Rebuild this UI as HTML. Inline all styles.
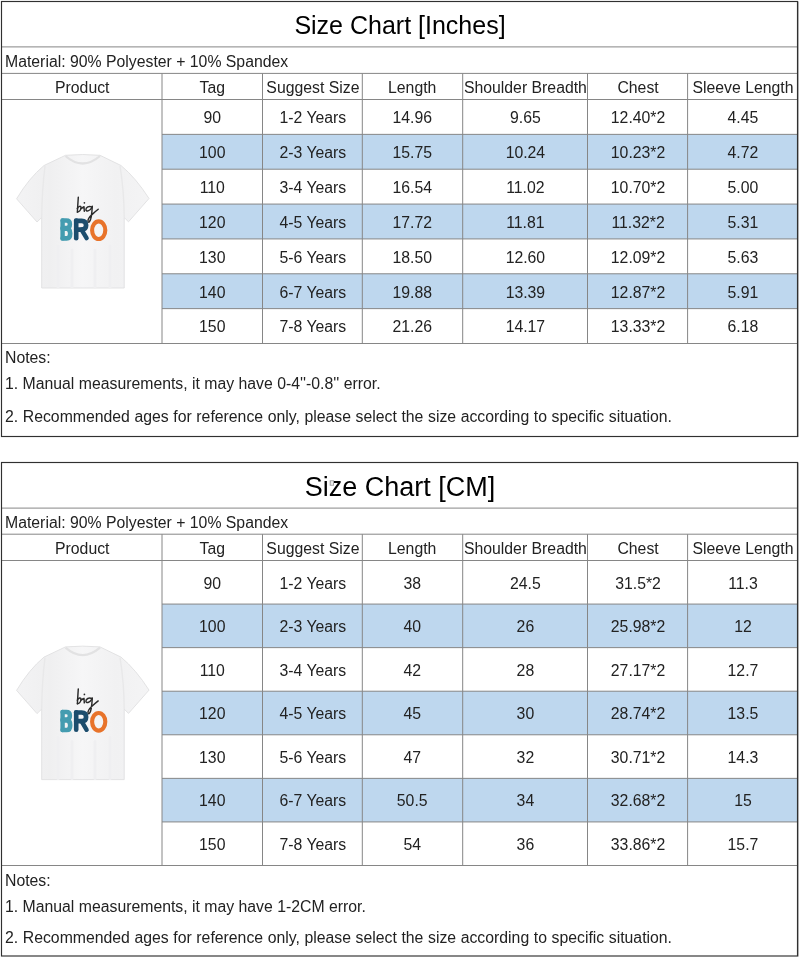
<!DOCTYPE html>
<html><head><meta charset="utf-8"><style>
html,body{margin:0;padding:0;background:#fff;}
body{width:800px;height:958px;position:relative;overflow:hidden;font-family:"Liberation Sans",sans-serif;}
.abs{position:absolute;}
.title{text-align:center;color:#000;will-change:transform;}
.txt{font-size:15.8px;color:#222;white-space:nowrap;will-change:transform;}
.c{text-align:center;}
.n{word-spacing:0.2px;}
</style></head><body>
<svg class="abs" style="left:0;top:0" width="800" height="958" viewBox="0 0 800 958">
<defs><linearGradient id="shg" x1="0" y1="0" x2="1" y2="0"><stop offset="0" stop-color="#f3f3f4"/><stop offset="0.25" stop-color="#efeff0"/><stop offset="0.5" stop-color="#f6f6f7"/><stop offset="0.75" stop-color="#f1f1f2"/><stop offset="1" stop-color="#f4f4f5"/></linearGradient></defs>
<rect x="162.0" y="134.36" width="635.5" height="34.849999999999994" fill="#bed7ee"/>
<rect x="162.0" y="204.07" width="635.5" height="34.860000000000014" fill="#bed7ee"/>
<rect x="162.0" y="273.79" width="635.5" height="34.849999999999966" fill="#bed7ee"/>
<g transform="translate(0 0)">
<path d="M65.5 155.3 Q82.5 153.8 100 155.3 L121 165.5 Q136 178 149 198.5 L128.5 221.8 L124.2 217.5 L124.2 288 L41.7 288 L41.7 217.5 L37 222 L16.6 198.8 Q29 178 44 165.5 Z" fill="url(#shg)" stroke="#e0e0e1" stroke-width="0.9"/>
<path d="M45 166 Q42 190 41.7 217.5 M120 166 Q124 190 124.2 217.5" fill="none" stroke="#e8e8e9" stroke-width="1.4"/>
<path d="M65.5 156 Q82.5 171 100 156" fill="none" stroke="#e2e2e3" stroke-width="2.2"/>
<path d="M58 246 V287 M72 250 V287 M95 250 V287 M110 246 V287" stroke="#efeff1" stroke-width="3" stroke-linecap="round"/>
<g fill="none" stroke="#2b2b2b" stroke-width="1.45" stroke-linecap="round" stroke-linejoin="round">
<path d="M78.3 197.3 C78 202 77.6 207 77.4 212.1"/>
<path d="M77.3 208.6 C78.5 206 81.2 205.4 81 207.9 C80.8 210.2 79 212 77.4 212.1"/>
<path d="M80.9 208.6 C82 208 83.2 207.2 84 206.7 L84.3 211.3"/>
<path d="M91.7 206.9 C89 205.6 85.8 207.3 85.9 209.7 C86 211.7 89.6 211.5 91.9 207.6"/>
<path d="M92.3 206.3 C92.1 210 91.8 214 91.2 217 C90.5 221 88.6 223.6 88 221.4 C87.6 219 90 216.4 92.2 214.4 C94.2 212.6 96 211 98.2 209.3"/>
</g>
<circle cx="84.4" cy="202.8" r="0.85" fill="#2b2b2b"/>
<g fill="none" stroke-linecap="round" stroke-linejoin="round">
<g stroke="#449cb0">
<path d="M62.6 220.4 V238.4" stroke-width="4.4"/>
<path d="M62.6 220.5 H66.3 Q69.9 220.5 69.9 224.2 Q69.9 228 66.3 228 H62.6" stroke-width="4.5"/>
<path d="M62.6 228.8 H66.7 Q70.2 228.8 70.2 233.6 Q70.2 238.4 66.7 238.4 H62.6" stroke-width="4.6"/>
</g>
<g stroke="#1c4d6d">
<path d="M76.2 220.6 V238.2" stroke-width="4.6"/>
<path d="M76.2 220.9 H81.6 Q86.1 220.9 86.1 225.3 Q86.1 229.6 81.6 229.6 H76.2" stroke-width="4.7"/>
<path d="M81.5 229.6 L86.6 238.2" stroke-width="4.4"/>
</g>
<ellipse cx="98.7" cy="230.2" rx="6.6" ry="8.8" stroke="#e8732a" stroke-width="4.1"/>
</g>
</g>
<path d="M1.5 46.9H797.5 M1.5 73.4H797.5 M1.5 99.5H797.5 M162.0 134.36H797.5 M162.0 169.21H797.5 M162.0 204.07H797.5 M162.0 238.93H797.5 M162.0 273.79H797.5 M162.0 308.64H797.5 M1.5 343.5H797.5 M162.0 73.4V343.5 M262.5 73.4V343.5 M362.3 73.4V343.5 M462.7 73.4V343.5 M587.5 73.4V343.5 M687.6 73.4V343.5" stroke="#868686" stroke-width="1" fill="none"/>
<rect x="1.5" y="1.5" width="796.0" height="435.0" fill="none" stroke="#303030" stroke-width="1.15"/>
<path d="M798.5 1.5V437.0" stroke="#b0b0b0" stroke-width="1" fill="none"/>
<rect x="162.0" y="604.07" width="635.5" height="43.569999999999936" fill="#bed7ee"/>
<rect x="162.0" y="691.21" width="635.5" height="43.57999999999993" fill="#bed7ee"/>
<rect x="162.0" y="778.36" width="635.5" height="43.569999999999936" fill="#bed7ee"/>
<g transform="translate(0 491.6)">
<path d="M65.5 155.3 Q82.5 153.8 100 155.3 L121 165.5 Q136 178 149 198.5 L128.5 221.8 L124.2 217.5 L124.2 288 L41.7 288 L41.7 217.5 L37 222 L16.6 198.8 Q29 178 44 165.5 Z" fill="url(#shg)" stroke="#e0e0e1" stroke-width="0.9"/>
<path d="M45 166 Q42 190 41.7 217.5 M120 166 Q124 190 124.2 217.5" fill="none" stroke="#e8e8e9" stroke-width="1.4"/>
<path d="M65.5 156 Q82.5 171 100 156" fill="none" stroke="#e2e2e3" stroke-width="2.2"/>
<path d="M58 246 V287 M72 250 V287 M95 250 V287 M110 246 V287" stroke="#efeff1" stroke-width="3" stroke-linecap="round"/>
<g fill="none" stroke="#2b2b2b" stroke-width="1.45" stroke-linecap="round" stroke-linejoin="round">
<path d="M78.3 197.3 C78 202 77.6 207 77.4 212.1"/>
<path d="M77.3 208.6 C78.5 206 81.2 205.4 81 207.9 C80.8 210.2 79 212 77.4 212.1"/>
<path d="M80.9 208.6 C82 208 83.2 207.2 84 206.7 L84.3 211.3"/>
<path d="M91.7 206.9 C89 205.6 85.8 207.3 85.9 209.7 C86 211.7 89.6 211.5 91.9 207.6"/>
<path d="M92.3 206.3 C92.1 210 91.8 214 91.2 217 C90.5 221 88.6 223.6 88 221.4 C87.6 219 90 216.4 92.2 214.4 C94.2 212.6 96 211 98.2 209.3"/>
</g>
<circle cx="84.4" cy="202.8" r="0.85" fill="#2b2b2b"/>
<g fill="none" stroke-linecap="round" stroke-linejoin="round">
<g stroke="#449cb0">
<path d="M62.6 220.4 V238.4" stroke-width="4.4"/>
<path d="M62.6 220.5 H66.3 Q69.9 220.5 69.9 224.2 Q69.9 228 66.3 228 H62.6" stroke-width="4.5"/>
<path d="M62.6 228.8 H66.7 Q70.2 228.8 70.2 233.6 Q70.2 238.4 66.7 238.4 H62.6" stroke-width="4.6"/>
</g>
<g stroke="#1c4d6d">
<path d="M76.2 220.6 V238.2" stroke-width="4.6"/>
<path d="M76.2 220.9 H81.6 Q86.1 220.9 86.1 225.3 Q86.1 229.6 81.6 229.6 H76.2" stroke-width="4.7"/>
<path d="M81.5 229.6 L86.6 238.2" stroke-width="4.4"/>
</g>
<ellipse cx="98.7" cy="230.2" rx="6.6" ry="8.8" stroke="#e8732a" stroke-width="4.1"/>
</g>
</g>
<path d="M1.5 508.1H797.5 M1.5 534.2H797.5 M1.5 560.5H797.5 M162.0 604.07H797.5 M162.0 647.64H797.5 M162.0 691.21H797.5 M162.0 734.79H797.5 M162.0 778.36H797.5 M162.0 821.93H797.5 M1.5 865.5H797.5 M162.0 534.2V865.5 M262.5 534.2V865.5 M362.3 534.2V865.5 M462.7 534.2V865.5 M587.5 534.2V865.5 M687.6 534.2V865.5" stroke="#868686" stroke-width="1" fill="none"/>
<rect x="1.5" y="462.5" width="796.0" height="493.5" fill="none" stroke="#303030" stroke-width="1.15"/>
<path d="M798.5 462.5V956.5" stroke="#b0b0b0" stroke-width="1" fill="none"/>
</svg>
<div class="abs title" style="font-size:25px;left:1.5px;top:2.7px;width:796.0px;height:45.9px;line-height:45.9px">Size Chart [Inches]</div>
<div class="abs txt" style="left:4.5px;top:48.699999999999996px;height:26.500000000000007px;line-height:26.500000000000007px">Material: 90% Polyester + 10% Spandex</div>
<div class="abs txt c" style="left:1.5px;top:75.2px;width:160.5px;height:26.099999999999994px;line-height:26.099999999999994px">Product</div>
<div class="abs txt c" style="left:162.0px;top:75.2px;width:100.5px;height:26.099999999999994px;line-height:26.099999999999994px">Tag</div>
<div class="abs txt c" style="left:262.5px;top:75.2px;width:99.80000000000001px;height:26.099999999999994px;line-height:26.099999999999994px">Suggest Size</div>
<div class="abs txt c" style="left:362.3px;top:75.2px;width:100.39999999999998px;height:26.099999999999994px;line-height:26.099999999999994px">Length</div>
<div class="abs txt c" style="left:462.7px;top:75.2px;width:124.80000000000001px;height:26.099999999999994px;line-height:26.099999999999994px">Shoulder Breadth</div>
<div class="abs txt c" style="left:587.5px;top:75.2px;width:100.10000000000002px;height:26.099999999999994px;line-height:26.099999999999994px">Chest</div>
<div class="abs txt c" style="left:687.6px;top:75.2px;width:109.89999999999998px;height:26.099999999999994px;line-height:26.099999999999994px">Sleeve Length</div>
<div class="abs txt c" style="left:162.0px;top:101.3px;width:100.5px;height:34.860000000000014px;line-height:34.860000000000014px">90</div>
<div class="abs txt c" style="left:262.5px;top:101.3px;width:99.80000000000001px;height:34.860000000000014px;line-height:34.860000000000014px">1-2 Years</div>
<div class="abs txt c" style="left:362.3px;top:101.3px;width:100.39999999999998px;height:34.860000000000014px;line-height:34.860000000000014px">14.96</div>
<div class="abs txt c" style="left:462.7px;top:101.3px;width:124.80000000000001px;height:34.860000000000014px;line-height:34.860000000000014px">9.65</div>
<div class="abs txt c" style="left:587.5px;top:101.3px;width:100.10000000000002px;height:34.860000000000014px;line-height:34.860000000000014px">12.40*2</div>
<div class="abs txt c" style="left:687.6px;top:101.3px;width:109.89999999999998px;height:34.860000000000014px;line-height:34.860000000000014px">4.45</div>
<div class="abs txt c" style="left:162.0px;top:136.16000000000003px;width:100.5px;height:34.849999999999994px;line-height:34.849999999999994px">100</div>
<div class="abs txt c" style="left:262.5px;top:136.16000000000003px;width:99.80000000000001px;height:34.849999999999994px;line-height:34.849999999999994px">2-3 Years</div>
<div class="abs txt c" style="left:362.3px;top:136.16000000000003px;width:100.39999999999998px;height:34.849999999999994px;line-height:34.849999999999994px">15.75</div>
<div class="abs txt c" style="left:462.7px;top:136.16000000000003px;width:124.80000000000001px;height:34.849999999999994px;line-height:34.849999999999994px">10.24</div>
<div class="abs txt c" style="left:587.5px;top:136.16000000000003px;width:100.10000000000002px;height:34.849999999999994px;line-height:34.849999999999994px">10.23*2</div>
<div class="abs txt c" style="left:687.6px;top:136.16000000000003px;width:109.89999999999998px;height:34.849999999999994px;line-height:34.849999999999994px">4.72</div>
<div class="abs txt c" style="left:162.0px;top:171.01000000000002px;width:100.5px;height:34.859999999999985px;line-height:34.859999999999985px">110</div>
<div class="abs txt c" style="left:262.5px;top:171.01000000000002px;width:99.80000000000001px;height:34.859999999999985px;line-height:34.859999999999985px">3-4 Years</div>
<div class="abs txt c" style="left:362.3px;top:171.01000000000002px;width:100.39999999999998px;height:34.859999999999985px;line-height:34.859999999999985px">16.54</div>
<div class="abs txt c" style="left:462.7px;top:171.01000000000002px;width:124.80000000000001px;height:34.859999999999985px;line-height:34.859999999999985px">11.02</div>
<div class="abs txt c" style="left:587.5px;top:171.01000000000002px;width:100.10000000000002px;height:34.859999999999985px;line-height:34.859999999999985px">10.70*2</div>
<div class="abs txt c" style="left:687.6px;top:171.01000000000002px;width:109.89999999999998px;height:34.859999999999985px;line-height:34.859999999999985px">5.00</div>
<div class="abs txt c" style="left:162.0px;top:205.87px;width:100.5px;height:34.860000000000014px;line-height:34.860000000000014px">120</div>
<div class="abs txt c" style="left:262.5px;top:205.87px;width:99.80000000000001px;height:34.860000000000014px;line-height:34.860000000000014px">4-5 Years</div>
<div class="abs txt c" style="left:362.3px;top:205.87px;width:100.39999999999998px;height:34.860000000000014px;line-height:34.860000000000014px">17.72</div>
<div class="abs txt c" style="left:462.7px;top:205.87px;width:124.80000000000001px;height:34.860000000000014px;line-height:34.860000000000014px">11.81</div>
<div class="abs txt c" style="left:587.5px;top:205.87px;width:100.10000000000002px;height:34.860000000000014px;line-height:34.860000000000014px">11.32*2</div>
<div class="abs txt c" style="left:687.6px;top:205.87px;width:109.89999999999998px;height:34.860000000000014px;line-height:34.860000000000014px">5.31</div>
<div class="abs txt c" style="left:162.0px;top:240.73000000000002px;width:100.5px;height:34.860000000000014px;line-height:34.860000000000014px">130</div>
<div class="abs txt c" style="left:262.5px;top:240.73000000000002px;width:99.80000000000001px;height:34.860000000000014px;line-height:34.860000000000014px">5-6 Years</div>
<div class="abs txt c" style="left:362.3px;top:240.73000000000002px;width:100.39999999999998px;height:34.860000000000014px;line-height:34.860000000000014px">18.50</div>
<div class="abs txt c" style="left:462.7px;top:240.73000000000002px;width:124.80000000000001px;height:34.860000000000014px;line-height:34.860000000000014px">12.60</div>
<div class="abs txt c" style="left:587.5px;top:240.73000000000002px;width:100.10000000000002px;height:34.860000000000014px;line-height:34.860000000000014px">12.09*2</div>
<div class="abs txt c" style="left:687.6px;top:240.73000000000002px;width:109.89999999999998px;height:34.860000000000014px;line-height:34.860000000000014px">5.63</div>
<div class="abs txt c" style="left:162.0px;top:275.59000000000003px;width:100.5px;height:34.849999999999966px;line-height:34.849999999999966px">140</div>
<div class="abs txt c" style="left:262.5px;top:275.59000000000003px;width:99.80000000000001px;height:34.849999999999966px;line-height:34.849999999999966px">6-7 Years</div>
<div class="abs txt c" style="left:362.3px;top:275.59000000000003px;width:100.39999999999998px;height:34.849999999999966px;line-height:34.849999999999966px">19.88</div>
<div class="abs txt c" style="left:462.7px;top:275.59000000000003px;width:124.80000000000001px;height:34.849999999999966px;line-height:34.849999999999966px">13.39</div>
<div class="abs txt c" style="left:587.5px;top:275.59000000000003px;width:100.10000000000002px;height:34.849999999999966px;line-height:34.849999999999966px">12.87*2</div>
<div class="abs txt c" style="left:687.6px;top:275.59000000000003px;width:109.89999999999998px;height:34.849999999999966px;line-height:34.849999999999966px">5.91</div>
<div class="abs txt c" style="left:162.0px;top:310.44px;width:100.5px;height:34.860000000000014px;line-height:34.860000000000014px">150</div>
<div class="abs txt c" style="left:262.5px;top:310.44px;width:99.80000000000001px;height:34.860000000000014px;line-height:34.860000000000014px">7-8 Years</div>
<div class="abs txt c" style="left:362.3px;top:310.44px;width:100.39999999999998px;height:34.860000000000014px;line-height:34.860000000000014px">21.26</div>
<div class="abs txt c" style="left:462.7px;top:310.44px;width:124.80000000000001px;height:34.860000000000014px;line-height:34.860000000000014px">14.17</div>
<div class="abs txt c" style="left:587.5px;top:310.44px;width:100.10000000000002px;height:34.860000000000014px;line-height:34.860000000000014px">13.33*2</div>
<div class="abs txt c" style="left:687.6px;top:310.44px;width:109.89999999999998px;height:34.860000000000014px;line-height:34.860000000000014px">6.18</div>
<div class="abs txt" style="left:4.5px;top:349.2px">Notes:</div>
<div class="abs txt" style="left:4.5px;top:375.2px">1. Manual measurements, it may have 0-4''-0.8'' error.</div>
<div class="abs txt" style="left:4.5px;top:408.2px"><span class=n>2. Recommended ages for reference only, please select the size according to specific situation.</span></div>
<div class="abs title" style="font-size:27px;left:1.5px;top:464.7px;width:796.0px;height:45.60000000000002px;line-height:45.60000000000002px">Size Chart [CM]</div>
<div class="abs txt" style="left:4.5px;top:510.20000000000005px;height:26.100000000000023px;line-height:26.100000000000023px">Material: 90% Polyester + 10% Spandex</div>
<div class="abs txt c" style="left:1.5px;top:536.3000000000001px;width:160.5px;height:26.299999999999955px;line-height:26.299999999999955px">Product</div>
<div class="abs txt c" style="left:162.0px;top:536.3000000000001px;width:100.5px;height:26.299999999999955px;line-height:26.299999999999955px">Tag</div>
<div class="abs txt c" style="left:262.5px;top:536.3000000000001px;width:99.80000000000001px;height:26.299999999999955px;line-height:26.299999999999955px">Suggest Size</div>
<div class="abs txt c" style="left:362.3px;top:536.3000000000001px;width:100.39999999999998px;height:26.299999999999955px;line-height:26.299999999999955px">Length</div>
<div class="abs txt c" style="left:462.7px;top:536.3000000000001px;width:124.80000000000001px;height:26.299999999999955px;line-height:26.299999999999955px">Shoulder Breadth</div>
<div class="abs txt c" style="left:587.5px;top:536.3000000000001px;width:100.10000000000002px;height:26.299999999999955px;line-height:26.299999999999955px">Chest</div>
<div class="abs txt c" style="left:687.6px;top:536.3000000000001px;width:109.89999999999998px;height:26.299999999999955px;line-height:26.299999999999955px">Sleeve Length</div>
<div class="abs txt c" style="left:162.0px;top:561.6px;width:100.5px;height:43.57000000000005px;line-height:43.57000000000005px">90</div>
<div class="abs txt c" style="left:262.5px;top:561.6px;width:99.80000000000001px;height:43.57000000000005px;line-height:43.57000000000005px">1-2 Years</div>
<div class="abs txt c" style="left:362.3px;top:561.6px;width:100.39999999999998px;height:43.57000000000005px;line-height:43.57000000000005px">38</div>
<div class="abs txt c" style="left:462.7px;top:561.6px;width:124.80000000000001px;height:43.57000000000005px;line-height:43.57000000000005px">24.5</div>
<div class="abs txt c" style="left:587.5px;top:561.6px;width:100.10000000000002px;height:43.57000000000005px;line-height:43.57000000000005px">31.5*2</div>
<div class="abs txt c" style="left:687.6px;top:561.6px;width:109.89999999999998px;height:43.57000000000005px;line-height:43.57000000000005px">11.3</div>
<div class="abs txt c" style="left:162.0px;top:605.1700000000001px;width:100.5px;height:43.569999999999936px;line-height:43.569999999999936px">100</div>
<div class="abs txt c" style="left:262.5px;top:605.1700000000001px;width:99.80000000000001px;height:43.569999999999936px;line-height:43.569999999999936px">2-3 Years</div>
<div class="abs txt c" style="left:362.3px;top:605.1700000000001px;width:100.39999999999998px;height:43.569999999999936px;line-height:43.569999999999936px">40</div>
<div class="abs txt c" style="left:462.7px;top:605.1700000000001px;width:124.80000000000001px;height:43.569999999999936px;line-height:43.569999999999936px">26</div>
<div class="abs txt c" style="left:587.5px;top:605.1700000000001px;width:100.10000000000002px;height:43.569999999999936px;line-height:43.569999999999936px">25.98*2</div>
<div class="abs txt c" style="left:687.6px;top:605.1700000000001px;width:109.89999999999998px;height:43.569999999999936px;line-height:43.569999999999936px">12</div>
<div class="abs txt c" style="left:162.0px;top:648.74px;width:100.5px;height:43.57000000000005px;line-height:43.57000000000005px">110</div>
<div class="abs txt c" style="left:262.5px;top:648.74px;width:99.80000000000001px;height:43.57000000000005px;line-height:43.57000000000005px">3-4 Years</div>
<div class="abs txt c" style="left:362.3px;top:648.74px;width:100.39999999999998px;height:43.57000000000005px;line-height:43.57000000000005px">42</div>
<div class="abs txt c" style="left:462.7px;top:648.74px;width:124.80000000000001px;height:43.57000000000005px;line-height:43.57000000000005px">28</div>
<div class="abs txt c" style="left:587.5px;top:648.74px;width:100.10000000000002px;height:43.57000000000005px;line-height:43.57000000000005px">27.17*2</div>
<div class="abs txt c" style="left:687.6px;top:648.74px;width:109.89999999999998px;height:43.57000000000005px;line-height:43.57000000000005px">12.7</div>
<div class="abs txt c" style="left:162.0px;top:692.3100000000001px;width:100.5px;height:43.57999999999993px;line-height:43.57999999999993px">120</div>
<div class="abs txt c" style="left:262.5px;top:692.3100000000001px;width:99.80000000000001px;height:43.57999999999993px;line-height:43.57999999999993px">4-5 Years</div>
<div class="abs txt c" style="left:362.3px;top:692.3100000000001px;width:100.39999999999998px;height:43.57999999999993px;line-height:43.57999999999993px">45</div>
<div class="abs txt c" style="left:462.7px;top:692.3100000000001px;width:124.80000000000001px;height:43.57999999999993px;line-height:43.57999999999993px">30</div>
<div class="abs txt c" style="left:587.5px;top:692.3100000000001px;width:100.10000000000002px;height:43.57999999999993px;line-height:43.57999999999993px">28.74*2</div>
<div class="abs txt c" style="left:687.6px;top:692.3100000000001px;width:109.89999999999998px;height:43.57999999999993px;line-height:43.57999999999993px">13.5</div>
<div class="abs txt c" style="left:162.0px;top:735.89px;width:100.5px;height:43.57000000000005px;line-height:43.57000000000005px">130</div>
<div class="abs txt c" style="left:262.5px;top:735.89px;width:99.80000000000001px;height:43.57000000000005px;line-height:43.57000000000005px">5-6 Years</div>
<div class="abs txt c" style="left:362.3px;top:735.89px;width:100.39999999999998px;height:43.57000000000005px;line-height:43.57000000000005px">47</div>
<div class="abs txt c" style="left:462.7px;top:735.89px;width:124.80000000000001px;height:43.57000000000005px;line-height:43.57000000000005px">32</div>
<div class="abs txt c" style="left:587.5px;top:735.89px;width:100.10000000000002px;height:43.57000000000005px;line-height:43.57000000000005px">30.71*2</div>
<div class="abs txt c" style="left:687.6px;top:735.89px;width:109.89999999999998px;height:43.57000000000005px;line-height:43.57000000000005px">14.3</div>
<div class="abs txt c" style="left:162.0px;top:779.46px;width:100.5px;height:43.569999999999936px;line-height:43.569999999999936px">140</div>
<div class="abs txt c" style="left:262.5px;top:779.46px;width:99.80000000000001px;height:43.569999999999936px;line-height:43.569999999999936px">6-7 Years</div>
<div class="abs txt c" style="left:362.3px;top:779.46px;width:100.39999999999998px;height:43.569999999999936px;line-height:43.569999999999936px">50.5</div>
<div class="abs txt c" style="left:462.7px;top:779.46px;width:124.80000000000001px;height:43.569999999999936px;line-height:43.569999999999936px">34</div>
<div class="abs txt c" style="left:587.5px;top:779.46px;width:100.10000000000002px;height:43.569999999999936px;line-height:43.569999999999936px">32.68*2</div>
<div class="abs txt c" style="left:687.6px;top:779.46px;width:109.89999999999998px;height:43.569999999999936px;line-height:43.569999999999936px">15</div>
<div class="abs txt c" style="left:162.0px;top:823.03px;width:100.5px;height:43.57000000000005px;line-height:43.57000000000005px">150</div>
<div class="abs txt c" style="left:262.5px;top:823.03px;width:99.80000000000001px;height:43.57000000000005px;line-height:43.57000000000005px">7-8 Years</div>
<div class="abs txt c" style="left:362.3px;top:823.03px;width:100.39999999999998px;height:43.57000000000005px;line-height:43.57000000000005px">54</div>
<div class="abs txt c" style="left:462.7px;top:823.03px;width:124.80000000000001px;height:43.57000000000005px;line-height:43.57000000000005px">36</div>
<div class="abs txt c" style="left:587.5px;top:823.03px;width:100.10000000000002px;height:43.57000000000005px;line-height:43.57000000000005px">33.86*2</div>
<div class="abs txt c" style="left:687.6px;top:823.03px;width:109.89999999999998px;height:43.57000000000005px;line-height:43.57000000000005px">15.7</div>
<div class="abs txt" style="left:4.5px;top:871.6px">Notes:</div>
<div class="abs txt" style="left:4.5px;top:897.6px">1. Manual measurements, it may have 1-2CM error.</div>
<div class="abs txt" style="left:4.5px;top:928.6px"><span class=n>2. Recommended ages for reference only, please select the size according to specific situation.</span></div>
<svg class="abs" style="left:328px;top:479px" width="8" height="9"><rect x="2.2" y="1.8" width="3.3" height="4.4" fill="#fafafa" stroke="#a0a0a0" stroke-width="1"/><path d="M3.2 4H4.6" stroke="#c8c8c8" stroke-width="0.8"/></svg>
</body></html>
